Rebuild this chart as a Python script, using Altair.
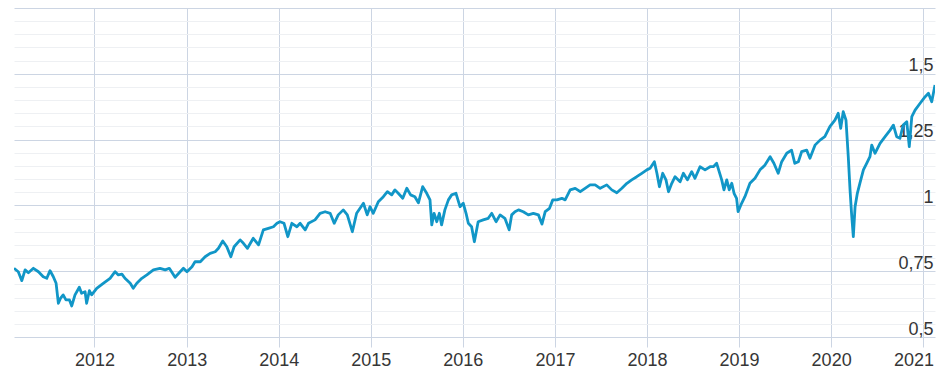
import altair as alt
import pandas as pd

# Time (decimal years) and index values
t_year = [
    2011.128, 2011.175, 2011.212, 2011.248, 2011.283, 2011.338, 2011.392, 2011.446, 2011.483, 2011.519,
    2011.555, 2011.584, 2011.609, 2011.635, 2011.663, 2011.693, 2011.729, 2011.755, 2011.790, 2011.837,
    2011.863, 2011.899, 2011.917, 2011.946, 2011.972, 2012.026, 2012.098, 2012.170, 2012.225, 2012.261,
    2012.298, 2012.333, 2012.388, 2012.423, 2012.460, 2012.515, 2012.569, 2012.641, 2012.713, 2012.768,
    2012.814, 2012.876, 2012.931, 2012.966, 2013.003, 2013.058, 2013.093, 2013.148, 2013.202, 2013.256,
    2013.311, 2013.346, 2013.394, 2013.438, 2013.481, 2013.517, 2013.582, 2013.618, 2013.661, 2013.726,
    2013.781, 2013.835, 2013.889, 2013.944, 2013.981, 2014.016, 2014.060, 2014.100, 2014.143, 2014.198,
    2014.234, 2014.288, 2014.324, 2014.396, 2014.451, 2014.505, 2014.559, 2014.603, 2014.649, 2014.704,
    2014.747, 2014.801, 2014.849, 2014.921, 2014.964, 2014.994, 2015.029, 2015.084, 2015.138, 2015.181,
    2015.229, 2015.265, 2015.301, 2015.349, 2015.392, 2015.435, 2015.482, 2015.518, 2015.566, 2015.609,
    2015.645, 2015.664, 2015.688, 2015.718, 2015.746, 2015.772, 2015.808, 2015.844, 2015.881, 2015.927,
    2015.971, 2016.007, 2016.036, 2016.061, 2016.098, 2016.126, 2016.169, 2016.224, 2016.278, 2016.315,
    2016.362, 2016.405, 2016.459, 2016.503, 2016.532, 2016.568, 2016.604, 2016.658, 2016.712, 2016.767,
    2016.821, 2016.858, 2016.894, 2016.940, 2016.977, 2017.021, 2017.075, 2017.111, 2017.165, 2017.220,
    2017.274, 2017.328, 2017.382, 2017.437, 2017.491, 2017.564, 2017.618, 2017.672, 2017.727, 2017.781,
    2017.835, 2017.889, 2017.944, 2017.998, 2018.034, 2018.080, 2018.107, 2018.135, 2018.172, 2018.208,
    2018.233, 2018.270, 2018.305, 2018.360, 2018.395, 2018.439, 2018.487, 2018.522, 2018.577, 2018.631,
    2018.685, 2018.721, 2018.758, 2018.786, 2018.812, 2018.837, 2018.867, 2018.895, 2018.921, 2018.946,
    2018.975, 2018.990, 2019.029, 2019.065, 2019.120, 2019.174, 2019.228, 2019.282, 2019.337, 2019.380,
    2019.427, 2019.464, 2019.518, 2019.572, 2019.608, 2019.644, 2019.681, 2019.735, 2019.771, 2019.825,
    2019.880, 2019.934, 2019.988, 2020.043, 2020.078, 2020.104, 2020.133, 2020.162, 2020.187, 2020.205,
    2020.224, 2020.241, 2020.260, 2020.285, 2020.314, 2020.350, 2020.387, 2020.423, 2020.441, 2020.477,
    2020.531, 2020.585, 2020.640, 2020.676, 2020.713, 2020.748, 2020.784, 2020.821, 2020.849, 2020.875,
    2020.911, 2020.966, 2021.020, 2021.056, 2021.093, 2021.128,
]

index_value = [
    0.761, 0.748, 0.714, 0.755, 0.744, 0.761, 0.748, 0.729, 0.723, 0.752,
    0.729, 0.704, 0.628, 0.648, 0.660, 0.641, 0.641, 0.618, 0.660, 0.689,
    0.666, 0.672, 0.628, 0.676, 0.660, 0.685, 0.704, 0.723, 0.748, 0.736,
    0.739, 0.723, 0.704, 0.685, 0.704, 0.723, 0.736, 0.755, 0.761, 0.755,
    0.761, 0.727, 0.748, 0.761, 0.748, 0.767, 0.786, 0.786, 0.805, 0.818,
    0.824, 0.837, 0.865, 0.843, 0.805, 0.843, 0.869, 0.856, 0.837, 0.875,
    0.850, 0.907, 0.913, 0.919, 0.932, 0.938, 0.932, 0.881, 0.932, 0.919,
    0.932, 0.907, 0.932, 0.945, 0.970, 0.976, 0.970, 0.932, 0.964, 0.983,
    0.964, 0.900, 0.970, 1.008, 0.964, 0.995, 0.970, 1.014, 1.033, 1.052,
    1.040, 1.059, 1.046, 1.027, 1.065, 1.040, 1.033, 1.010, 1.071, 1.046,
    1.021, 0.926, 0.970, 0.938, 0.970, 0.926, 0.983, 1.021, 1.040, 1.046,
    0.995, 1.008, 0.970, 0.932, 0.919, 0.862, 0.938, 0.945, 0.951, 0.970,
    0.938, 0.964, 0.951, 0.907, 0.964, 0.976, 0.983, 0.976, 0.964, 0.970,
    0.964, 0.929, 0.976, 0.989, 1.021, 1.021, 1.027, 1.021, 1.059, 1.065,
    1.052, 1.065, 1.078, 1.078, 1.065, 1.078, 1.059, 1.048, 1.065, 1.084,
    1.097, 1.109, 1.122, 1.135, 1.141, 1.166, 1.122, 1.071, 1.122, 1.097,
    1.052, 1.084, 1.109, 1.090, 1.122, 1.097, 1.128, 1.103, 1.147, 1.135,
    1.147, 1.147, 1.160, 1.128, 1.097, 1.059, 1.097, 1.059, 1.084, 1.046,
    1.027, 0.976, 1.008, 1.033, 1.084, 1.103, 1.135, 1.153, 1.185, 1.160,
    1.122, 1.166, 1.198, 1.210, 1.160, 1.166, 1.204, 1.210, 1.179, 1.229,
    1.248, 1.261, 1.299, 1.324, 1.350, 1.293, 1.356, 1.324, 1.185, 1.059,
    0.970, 0.881, 0.995, 1.046, 1.084, 1.135, 1.160, 1.185, 1.229, 1.198,
    1.236, 1.261, 1.286, 1.305, 1.261, 1.255, 1.305, 1.318, 1.223, 1.337,
    1.362, 1.388, 1.413, 1.426, 1.394, 1.457,
]

year_ticks = [2012, 2013, 2014, 2015, 2016, 2017, 2018, 2019, 2020, 2021]
y_grid_values = [round(0.5 + 0.05 * i, 2) for i in range(26)]


def frac_to_date(t):
    y = int(t)
    start = pd.Timestamp(year=y, month=1, day=1)
    end = pd.Timestamp(year=y + 1, month=1, day=1)
    return (start + (end - start) * (t - y)).strftime("%Y-%m-%d")


df = pd.DataFrame({"date": [frac_to_date(t) for t in t_year], "value": index_value})

GRID_MAJOR = "#ccd5e3"
GRID_MINOR = "#eef0f3"
LABEL_COLOR = "#363636"
FONT = "Liberation Sans"
major_test = "abs(datum.value*4 - round(datum.value*4)) < 0.001"

x_enc = alt.X(
    "date:T",
    scale=alt.Scale(
        type="utc",
        domain=[
            alt.DateTime(year=2011, month=2, date=16, utc=True),
            alt.DateTime(year=2021, month=2, date=16, utc=True),
        ],
    ),
    axis=alt.Axis(
        values=[alt.DateTime(year=y, month=1, date=1, utc=True) for y in year_ticks],
        labelExpr="utcFormat(datum.value, '%Y')",
        title=None,
        domain=False,
        grid=True,
        gridColor=GRID_MAJOR,
        tickColor=GRID_MAJOR,
        tickSize=10,
        labelFontSize=18,
        labelFont=FONT,
        labelColor=LABEL_COLOR,
        labelPadding=4,
        labelFlush=False,
        labelOverlap=False,
        labelOffset={"condition": {"test": "utcyear(datum.value) == 2021", "value": -10}, "value": 0},
    ),
)

y_enc = alt.Y(
    "value:Q",
    scale=alt.Scale(domain=[0.5, 1.75], nice=False, zero=False),
    axis=alt.Axis(
        orient="right",
        values=y_grid_values,
        title=None,
        domain=False,
        ticks=False,
        grid=True,
        gridColor={"condition": {"test": major_test, "value": GRID_MAJOR}, "value": GRID_MINOR},
        labelExpr=f"({major_test}) && datum.value < 1.7 ? replace(toString(datum.value), '.', ',') : ''",
        labelAlign="right",
        labelBaseline="alphabetic",
        labelPadding=-2,
        labelOffset=-3,
        labelFontSize=18,
        labelFont=FONT,
        labelColor=LABEL_COLOR,
        labelOverlap=False,
    ),
)

chart = (
    alt.Chart(df)
    .mark_line(color="#1196c7", strokeWidth=2.8, clip=True, strokeJoin="round")
    .encode(x=x_enc, y=y_enc)
    .properties(
        width=921,
        height=329,
        autosize=alt.AutoSizeParams(type="none"),
        padding={"left": 6, "top": 0, "right": 1, "bottom": 40},
    )
    .configure_view(strokeWidth=0)
)

chart.save("out.html", embed_options={"renderer": "svg", "actions": False})
